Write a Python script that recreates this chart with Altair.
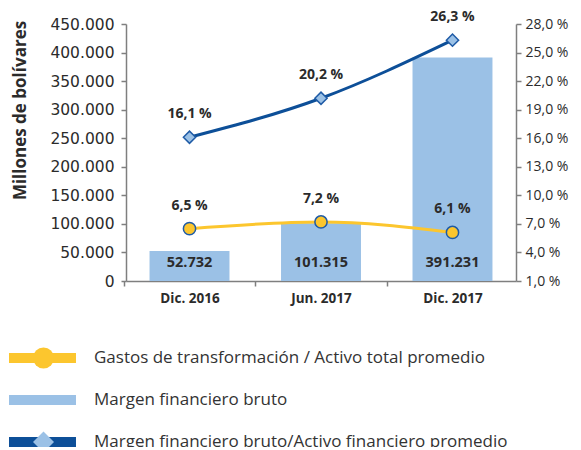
import altair as alt
import pandas as pd

# ---------------- data ----------------
categorias = ["Dic. 2016", "Jun. 2017", "Dic. 2017"]
margen_bruto = [52732, 101315, 391231]          # millones de bolívares
gastos_pct = [6.5, 7.2, 6.1]                     # Gastos de transformación / Activo total promedio
margen_pct = [16.1, 20.2, 26.3]                  # Margen financiero bruto / Activo financiero promedio

serie_gastos = "Gastos de transformación / Activo total promedio"
serie_margen = "Margen financiero bruto"
serie_ratio = "Margen financiero bruto/Activo financiero promedio"
series = [serie_gastos, serie_margen, serie_ratio]

left_ticks = [0, 50000, 100000, 150000, 200000, 250000, 300000, 350000, 400000, 450000]
right_ticks = [1, 4, 7, 10, 13, 16, 19, 22, 25, 28]

# ---------------- styles ----------------
YELLOW = "#fcc62e"
LIGHT = "#9bc1e6"
DARK = "#0d4f98"
PT_STROKE = "#1f5ba6"
AXIS = "#7f7f7f"
TXT = "#2b2b2b"
FONT = "Open Sans"


def miles(v):
    return f"{v:,}".replace(",", ".")


def pct(v):
    return f"{v:.1f}".replace(".", ",") + " %"


bars_df = pd.DataFrame({
    "cat": categorias,
    "valor": margen_bruto,
    "base": [0, 0, 0],
    "serie": serie_margen,
    "label": [miles(v) for v in margen_bruto],
})

lines_df = pd.DataFrame({
    "cat": categorias * 2,
    "pct": gastos_pct + margen_pct,
    "serie": [serie_gastos] * 3 + [serie_ratio] * 3,
    "label": [pct(v) for v in gastos_pct + margen_pct],
})

step = 131.5
x_enc = alt.X(
    "cat:N", sort=categorias,
    scale=alt.Scale(paddingInner=0.392, paddingOuter=0.179),
    axis=alt.Axis(
        title=None, labelAngle=0, labelFont=FONT, labelFontSize=13.5,
        labelFontWeight="bold", labelColor=TXT, labelPadding=5,
        domainColor=AXIS, domainWidth=1.5, tickColor=AXIS, tickWidth=1.5,
        tickSize=5, tickOffset=-step / 2, labelOffset=step / 2,
    ),
)

left_scale = alt.Scale(domain=[0, 450000], nice=False, zero=True)
left_axis = alt.Axis(
    title="Millones de bolívares", values=left_ticks, tickCount=10,
    labelExpr="replace(format(datum.value, ','), ',', '.')",
    labelFont="DejaVu Sans", labelFontSize=15.5, labelColor=TXT, labelPadding=7,
    labelOverlap=False, labelFlush=False,
    titleFont=FONT, titleFontSize=17, titleFontWeight="bold", titleColor=TXT,
    titleX=-106, titleY=86, titleAngle=270, titleAlign="center", titleBaseline="middle",
    grid=False, domainColor=AXIS, domainWidth=1.5,
    tickColor=AXIS, tickWidth=1.5, tickSize=5,
)
y_left = alt.Y("valor:Q", scale=left_scale, axis=left_axis)
y_base = alt.Y("base:Q", scale=left_scale, axis=left_axis)

y_right_axis = alt.Axis(
    title=None, orient="right", values=right_ticks,
    labelExpr="replace(format(datum.value, '.1f'), '.', ',') + ' %'",
    labelFont=FONT, labelFontSize=14, labelColor=TXT, labelPadding=4,
    labelOverlap=False, labelFlush=False,
    grid=False, domainColor=AXIS, domainWidth=1.5, tickColor=AXIS,
    tickWidth=1.5, tickSize=5,
)
y_right_scale = alt.Scale(domain=[1, 28], nice=False, zero=False)

legend_common = dict(
    title=None, orient="none", direction="vertical", legendY=313,
    symbolSize=441, clipHeight=42, rowPadding=0, padding=0,
    labelFont=FONT, labelFontSize=17, labelColor="#333333", labelOffset=64,
    labelLimit=600,
)

legend_a = alt.Legend(
    legendX=-117, symbolType="M-1,-0.48H5.38V0.48H-1Z",
    symbolStrokeWidth=0, symbolOpacity=1, **legend_common,
)
legend_b = alt.Legend(
    legendX=-117 + 23, symbolStrokeColor=PT_STROKE, symbolStrokeWidth=1.5,
    symbolOpacity=1, labelExpr="''", **legend_common,
)

base_bars = alt.Chart(bars_df)
bars = base_bars.mark_bar(color=LIGHT).encode(
    x=x_enc, y=y_left,
    color=alt.Color("serie:N", scale=alt.Scale(domain=series, range=[YELLOW, LIGHT, DARK]),
                    legend=legend_a),
)
bar_text = base_bars.mark_text(
    font=FONT, fontSize=14.5, fontWeight="bold", color=TXT, dy=-18, baseline="middle"
).encode(x=x_enc, y=y_base, text="label:N")

left = alt.layer(bars, bar_text)

base_lines = alt.Chart(lines_df)
y_r = alt.Y("pct:Q", scale=y_right_scale, axis=y_right_axis)

line_gastos = base_lines.transform_filter(
    alt.datum.serie == serie_gastos
).mark_line(color=YELLOW, strokeWidth=3, interpolate="monotone").encode(x=x_enc, y=y_r)

line_ratio = base_lines.transform_filter(
    alt.datum.serie == serie_ratio
).mark_line(color=DARK, strokeWidth=3, interpolate="monotone").encode(x=x_enc, y=y_r)

points = base_lines.mark_point(
    filled=True, size=150, stroke=PT_STROKE, strokeWidth=1.5, opacity=1
).encode(
    x=x_enc, y=y_r,
    shape=alt.Shape("serie:N", scale=alt.Scale(domain=series, range=["circle", "M0,0", "diamond"]),
                    legend=legend_b),
    fill=alt.Fill("serie:N", scale=alt.Scale(domain=series, range=[YELLOW, "transparent", LIGHT]),
                  legend=legend_b),
)

pt_text = base_lines.mark_text(
    font=FONT, fontSize=14, fontWeight="bold", color=TXT, dy=-23, baseline="middle"
).encode(x=x_enc, y=y_r, text="label:N")

right = alt.layer(line_gastos, line_ratio, points, pt_text)

chart = alt.layer(left, right).resolve_scale(
    y="independent", color="independent", shape="independent", fill="independent"
).properties(
    width=390, height=257,
    autosize=alt.AutoSizeParams(type="none"),
    padding={"left": 118, "top": 16, "right": 57, "bottom": 166},
).configure_view(stroke=None)

chart.save("out.html", embed_options={"renderer": "svg", "actions": False})
